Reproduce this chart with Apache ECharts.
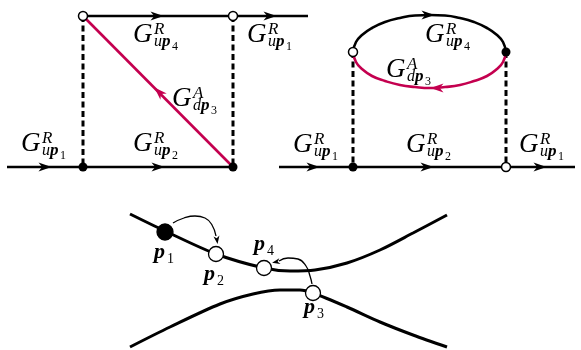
<!DOCTYPE html>
<html>
<head>
<meta charset="utf-8">
<script src="https://cdn.jsdelivr.net/npm/echarts@6/dist/echarts.min.js"></script>
<style>html,body{margin:0;padding:0;background:#fff}#c{width:581px;height:350px}</style>
</head>
<body>
<div id="c"></div>
<script>
// ---- data (pixel-like coordinates, y grows downward) ----
const solidBlackLines = [
  [[83,16],[308,16]],
  [[7,167],[233,167]],
  [[279,167],[575,167]]
];
const dashedLines = [
  [[83,16],[83,167]],
  [[233,16],[233,167]],
  [[353,52],[353,167]],
  [[506,52],[506,167]]
];
const redDiagonal = [[83,16],[233,167]];
const ellipseTop = [[353,52],[356,42],[362,35],[372,28],[385,22],[400,18],[415,15.5],[430,15],[445,15.5],[460,18],[474,22],[487,28],[497,35],[503,42],[506,52]];
const ellipseBottom = [[353,52],[356,62],[362,69],[372,76],[385,81],[400,85],[415,87],[430,88],[445,87],[460,85],[474,81],[487,76],[497,69],[503,62],[506,52]];
const upperBranch = [[130,214],[165,231],[216,254],[264,268],[290,271],[315,270],[347,263],[380,250],[413,233],[447,215]];
const lowerBranch = [[130,347],[170,327],[220,304],[253,294],[280,290],[300,290],[313,293],[347,307],[380,322],[413,335],[447,347]];
const hopArc1 = [[173,223],[184,218],[195,216],[205,218],[212,225],[216,236]];
const hopArc2 = [[312,284],[310,276],[306,266],[298,259],[288,258],[279,261]];
// arrows: x, y, angle (deg, counter-clockwise from pointing right)
const blackArrows = [[157,16,0],[270,16,0],[45,167,0],[158,167,0],[313,167,0],[427,167,0],[540,167,0],[428,15,0]];
const redArrows = [[159,92,135],[437,88,180]];
const smallArrows = [[217,240,-82],[276,262,192]];
// vertices
const openSmall = [[83,16],[233,16],[353,52],[506,167]];
const filledSmall = [[83,167],[233,167],[506,52],[353,167]];
const filledBig = [[165,232]];
const openBig = [[216,254],[264,268],[313,293]];
// propagator labels: G left x, baseline y, superscript, subscript letter, subscript number
const gX = [133,247,172,21,133,425,386,293,406,519];
const gY = [43,43,107,152,152,43,78,153,153,153];
const gSup = ['R','R','A','R','R','R','A','R','R','R'];
const gSubLetter = ['u','u','d','u','u','u','d','u','u','u'];
const gSubNum = ['4','1','3','1','2','4','3','1','2','1'];
// momentum labels: p left x, baseline y, index
const pX = [155,205,255,305];
const pY = [258,280,250,313];
const pNum = ['1','2','4','3'];

const RED = '#C4004F';
const SERIF = '"Liberation Serif","DejaVu Serif",serif';
const arrowPath = 'path://M0,0 L14,5 L0,10 L4,5 Z';

function line(data, color, width, type, smooth, z) {
  return {type:'line', data, symbol:'none', smooth: smooth || false, silent:true,
    lineStyle:{color, width, type: type || 'solid', cap:'butt'}, z: z || 2, animation:false};
}
function arrows(list, color, size, z) {
  return {type:'scatter', silent:true, animation:false, z: z || 5,
    symbol: arrowPath, symbolSize: size,
    itemStyle:{color, opacity:1},
    data: list.map(a => ({value:[a[0],a[1]], symbolRotate:a[2]}))};
}
function dots(list, fill, size, border, z) {
  return {type:'scatter', silent:true, animation:false, z: z || 6,
    symbol:'circle', symbolSize:size,
    itemStyle:{color:fill, borderColor:'#000', borderWidth:border, opacity:1},
    data:list};
}
function txt(x, y, s, font) {
  return {type:'text', x, y, style:{text:s, font, fill:'#000', textAlign:'left', textVerticalAlign:'middle', align:'left', verticalAlign:'middle'}};
}

const series = [];
solidBlackLines.forEach(l => series.push(line(l, '#000', 2.6)));
dashedLines.forEach(l => series.push(line(l, '#000', 3, [6,3.5], false, 1)));
series.push(line(redDiagonal, RED, 2.6));
series.push(line(ellipseTop, '#000', 2.6, 'solid', true));
series.push(line(ellipseBottom, RED, 2.6, 'solid', true));
series.push(line(upperBranch, '#000', 3, 'solid', 0.3));
series.push(line(lowerBranch, '#000', 3, 'solid', 0.3));
series.push(line(hopArc1, '#000', 1.3, 'solid', true, 3));
series.push(line(hopArc2, '#000', 1.3, 'solid', true, 3));
series.push(arrows(blackArrows, '#000', [13,9]));
series.push(arrows(redArrows, RED, [13,9]));
series.push(arrows(smallArrows, '#000', [8,6]));
series.push(dots(openSmall, '#fff', 9, 1.5));
series.push(dots(filledSmall, '#000', 9, 0));
series.push(dots(filledBig, '#000', 16, 1.3));
series.push(dots(openBig, '#fff', 15, 1.3));

series.push({
  type:'custom', silent:true, animation:false, z:10,
  data: gX.map((x,i) => [x, gY[i]]),
  renderItem: function(params, api) {
    const i = params.dataIndex;
    const c = api.coord([api.value(0), api.value(1)]);
    const x = c[0], y = c[1];
    return {type:'group', children:[
      txt(x, y - 8, 'G', 'italic 27px ' + SERIF),
      txt(x + 21, y - 13, gSup[i], 'italic 17px ' + SERIF),
      txt(x + 21, y - 1, gSubLetter[i], 'italic 16px ' + SERIF),
      txt(x + 29, y - 1, 'p', 'italic bold 17px ' + SERIF),
      txt(x + 39, y + 4, gSubNum[i], '12px ' + SERIF)
    ]};
  }
});
series.push({
  type:'custom', silent:true, animation:false, z:10,
  data: pX.map((x,i) => [x, pY[i]]),
  renderItem: function(params, api) {
    const i = params.dataIndex;
    const c = api.coord([api.value(0), api.value(1)]);
    const x = c[0], y = c[1];
    return {type:'group', children:[
      txt(x - 1, y - 6, 'p', 'italic bold 22px ' + SERIF),
      txt(x + 12, y + 1, pNum[i], '14px ' + SERIF)
    ]};
  }
});

const chart = echarts.init(document.getElementById('c'), null, {renderer:'canvas'});
chart.setOption({
  animation:false,
  backgroundColor:'#fff',
  grid:{left:0, right:0, top:0, bottom:0},
  xAxis:{type:'value', min:0, max:581, show:false},
  yAxis:{type:'value', min:0, max:350, inverse:true, show:false},
  series
});
</script>
</body>
</html>
